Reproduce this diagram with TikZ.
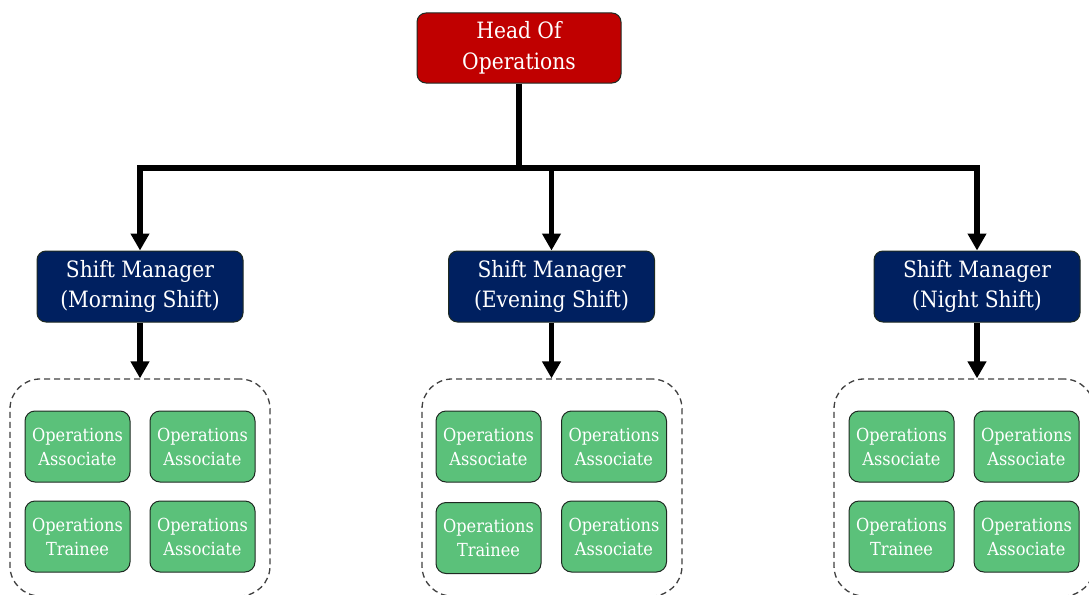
\documentclass[tikz,border=0pt]{standalone}
\usepackage{fontspec}
\setmainfont{DejaVu Serif}[FakeStretch=0.9]
\usetikzlibrary{arrows.meta}
\definecolor{headred}{HTML}{C00000}
\definecolor{navy}{HTML}{002060}
\definecolor{staffgreen}{HTML}{5BC17A}
\definecolor{edge}{HTML}{1E2A22}
\definecolor{dash}{HTML}{404040}
\begin{document}
\begin{tikzpicture}[x=1pt,y=-1pt,
  box/.style={draw=edge, line width=1pt, rounded corners=9pt, text=white,
    align=center, inner sep=0pt},
  headbox/.style={box, fill=headred, minimum width=204pt, minimum height=70pt,
    font=\fontsize{22.5}{30.5}\selectfont},
  mgrbox/.style={box, fill=navy, minimum width=206pt, minimum height=71pt,
    font=\fontsize{22.5}{30.5}\selectfont},
  staff/.style={box, fill=staffgreen, minimum width=105pt, minimum height=71pt,
    rounded corners=10pt, font=\fontsize{18}{24}\selectfont},
  group/.style={draw=dash, dashed, dash pattern=on 6pt off 4pt, line width=1.3pt,
    rounded corners=30pt, minimum width=260pt, minimum height=217pt, inner sep=0pt},
  conn/.style={line width=5.5pt, line join=miter},
  arr/.style={conn, -{Triangle[length=17pt,width=18pt]}}]
\useasboundingbox (0,0) rectangle (1089,594);
\begin{scope}
\clip (0,0) rectangle (1089,594);

% top of the chart
\node[headbox] (head) at (519,48) {Head Of\\Operations};

% shift managers
\node[mgrbox] (m1) at (140,286.5) {Shift Manager\\(Morning Shift)};
\node[mgrbox] (m2) at (551.5,286.5) {Shift Manager\\(Evening Shift)};
\node[mgrbox] (m3) at (977,286.5) {Shift Manager\\(Night Shift)};

% dashed team groups
\node[group] (g1) at (140,487.5) {};
\node[group] (g2) at (552,487.5) {};
\node[group] (g3) at (964,487.5) {};

% team members
\node[staff] (a11) at (77.5,446.5) {Operations\\Associate};
\node[staff] (a12) at (202.5,446.5) {Operations\\Associate};
\node[staff] (a13) at (77.5,536.5) {Operations\\Trainee};
\node[staff] (a14) at (202.5,536.5) {Operations\\Associate};

\node[staff] (a21) at (488.5,446.5) {Operations\\Associate};
\node[staff] (a22) at (614,446.5) {Operations\\Associate};
\node[staff] (a23) at (488.5,538) {Operations\\Trainee};
\node[staff] (a24) at (614,536.5) {Operations\\Associate};

\node[staff] (a31) at (901.5,446.5) {Operations\\Associate};
\node[staff] (a32) at (1026.5,446.5) {Operations\\Associate};
\node[staff] (a33) at (901.5,536.5) {Operations\\Trainee};
\node[staff] (a34) at (1026.5,536.5) {Operations\\Associate};

% reporting lines
\coordinate (bus) at (519,168);
\draw[conn] (head.south) -- (bus);
\draw[arr] (bus) -| (m1.north);
\draw[arr] (bus) -| (m2.north);
\draw[arr] (bus) -| (m3.north);

\draw[arr] (m1.south) -- (g1.north);
\draw[arr] (m2.south) -- (m2.south |- g2.north);
\draw[arr] (m3.south) -- (m3.south |- g3.north);
\end{scope}
\end{tikzpicture}
\end{document}
